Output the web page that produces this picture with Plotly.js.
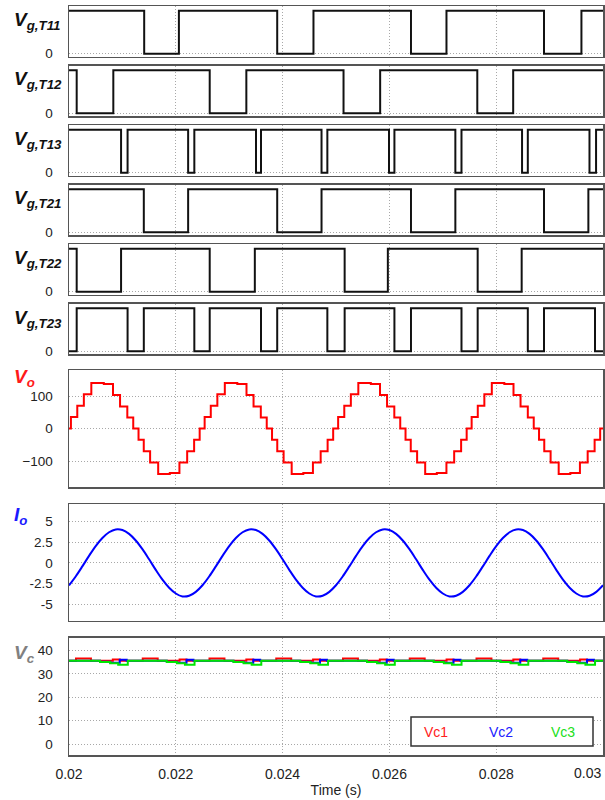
<!DOCTYPE html>
<html><head><meta charset="utf-8">
<script src="https://cdn.plot.ly/plotly-3.0.1.min.js"></script>
<style>html,body{margin:0;padding:0;background:#fff;}</style>
</head><body><div id="chart" style="width:605px;height:800px;"></div>
<script>
// ---- gate signals (switching instants, level after each instant) ----
const tT11 = [0.02, 0.021408, 0.022058, 0.023899, 0.024578, 0.026404, 0.027069, 0.028895, 0.029596, 0.03];
const gT11 = [1, 0, 1, 0, 1, 0, 1, 0, 1, 1];
const tT12 = [0.02, 0.020144, 0.020830, 0.022635, 0.023321, 0.025141, 0.025827, 0.027646, 0.028318, 0.03];
const gT12 = [1, 0, 1, 0, 1, 0, 1, 0, 1, 1];
const tT13 = [0.02, 0.020975, 0.021097, 0.022231, 0.022347, 0.023502, 0.023596, 0.024729, 0.024838, 0.025993, 0.026094, 0.027235, 0.027350, 0.028484, 0.028592, 0.029747, 0.029870, 0.03];
const gT13 = [1, 0, 1, 0, 1, 0, 1, 0, 1, 0, 1, 0, 1, 0, 1, 0, 1, 1];
const tT21 = [0.02, 0.021401, 0.022231, 0.023899, 0.024729, 0.026404, 0.027235, 0.028895, 0.029726, 0.03];
const gT21 = [1, 0, 1, 0, 1, 0, 1, 0, 1, 1];
const tT22 = [0.02, 0.020144, 0.020975, 0.022635, 0.023480, 0.025162, 0.025971, 0.027653, 0.028477, 0.03];
const gT22 = [1, 0, 1, 0, 1, 0, 1, 0, 1, 1];
const tT23 = [0.02, 0.020144, 0.021097, 0.021401, 0.022347, 0.022635, 0.023596, 0.023899, 0.024838, 0.025162, 0.026094, 0.026404, 0.027350, 0.027653, 0.028592, 0.028895, 0.029850, 0.03];
const gT23 = [0, 1, 0, 1, 0, 1, 0, 1, 0, 1, 0, 1, 0, 1, 0, 1, 0, 0];

// ---- output voltage Vo (staircase) ----
const tVo = [0.02, 0.020036, 0.020155, 0.020278, 0.020418, 0.020652, 0.020824, 0.020956, 0.021092, 0.021203, 0.021302, 0.021400, 0.021519, 0.021670, 0.021888, 0.022068, 0.022213, 0.022343, 0.022447,
  0.022540, 0.022655, 0.022778, 0.022918, 0.023152, 0.023324, 0.023456, 0.023592, 0.023703, 0.023802, 0.023900, 0.024019, 0.024170, 0.024388, 0.024568, 0.024713, 0.024843, 0.024947,
  0.025040, 0.025155, 0.025278, 0.025418, 0.025652, 0.025824, 0.025956, 0.026092, 0.026203, 0.026302, 0.026400, 0.026519, 0.026670, 0.026888, 0.027068, 0.027213, 0.027343, 0.027447,
  0.027540, 0.027655, 0.027778, 0.027918, 0.028152, 0.028324, 0.028456, 0.028592, 0.028703, 0.028802, 0.028900, 0.029019, 0.029170, 0.029388, 0.029568, 0.029713, 0.029843, 0.029947, 0.03];
const vVo = [0, 35, 70, 105, 140, 137, 103, 68, 34, 0, -35, -70, -105, -140, -137, -105, -70, -35, 0,
  35, 70, 105, 140, 137, 103, 68, 34, 0, -35, -70, -105, -140, -137, -105, -70, -35, 0,
  35, 70, 105, 140, 137, 103, 68, 34, 0, -35, -70, -105, -140, -137, -105, -70, -35, 0,
  35, 70, 105, 140, 137, 103, 68, 34, 0, -35, -70, -105, -140, -137, -105, -70, -35, 0, 0];

// ---- output current Io ----
const tIo = [0.02, 0.020125, 0.02025, 0.020375, 0.0205, 0.020625, 0.02075, 0.020875, 0.021, 0.021125, 0.02125, 0.021375, 0.0215, 0.021625, 0.02175, 0.021875, 0.022, 0.022125, 0.02225, 0.022375,
  0.0225, 0.022625, 0.02275, 0.022875, 0.023, 0.023125, 0.02325, 0.023375, 0.0235, 0.023625, 0.02375, 0.023875, 0.024, 0.024125, 0.02425, 0.024375, 0.0245, 0.024625, 0.02475, 0.024875,
  0.025, 0.025125, 0.02525, 0.025375, 0.0255, 0.025625, 0.02575, 0.025875, 0.026, 0.026125, 0.02625, 0.026375, 0.0265, 0.026625, 0.02675, 0.026875, 0.027, 0.027125, 0.02725, 0.027375,
  0.0275, 0.027625, 0.02775, 0.027875, 0.028, 0.028125, 0.02825, 0.028375, 0.0285, 0.028625, 0.02875, 0.028875, 0.029, 0.029125, 0.02925, 0.029375, 0.0295, 0.029625, 0.02975, 0.029875, 0.03];
const vIo = [-2.75, -1.66, -0.43, 0.85, 2.04, 3.02, 3.72, 4.06, 3.99, 3.52, 2.72, 1.66, 0.43, -0.85, -2.04, -3.02, -3.72, -4.08, -4.00, -3.52,
  -2.72, -1.66, -0.43, 0.85, 2.04, 3.02, 3.72, 4.06, 3.99, 3.52, 2.72, 1.66, 0.43, -0.85, -2.04, -3.02, -3.72, -4.08, -4.00, -3.52,
  -2.72, -1.66, -0.43, 0.85, 2.04, 3.02, 3.72, 4.06, 3.99, 3.52, 2.72, 1.66, 0.43, -0.85, -2.04, -3.02, -3.72, -4.08, -4.00, -3.52,
  -2.72, -1.66, -0.43, 0.85, 2.04, 3.02, 3.72, 4.06, 3.99, 3.52, 2.72, 1.66, 0.43, -0.85, -2.04, -3.02, -3.72, -4.08, -4.00, -3.52, -2.72];

// ---- capacitor voltages ----
const tVc1 = [0.02, 0.020131, 0.020411, 0.020821, 0.020951, 0.021381, 0.021661, 0.022071, 0.022201, 0.022631, 0.022911, 0.023321, 0.023451,
  0.023881, 0.024161, 0.024571, 0.024701, 0.025131, 0.025411, 0.025821, 0.025951, 0.026381, 0.026661, 0.027071, 0.027201,
  0.027631, 0.027911, 0.028321, 0.028451, 0.028881, 0.029161, 0.029571, 0.029701, 0.03];
const vVc1 = [35.6, 36.6, 35.6, 36.2, 35.6, 36.6, 35.6, 36.2, 35.6, 36.6, 35.6, 36.2, 35.6,
  36.6, 35.6, 36.2, 35.6, 36.6, 35.6, 36.2, 35.6, 36.6, 35.6, 36.2, 35.6,
  36.6, 35.6, 36.2, 35.6, 36.6, 35.6, 36.2, 35.6, 35.6];
const tVc2 = [0.02, 0.020581, 0.020771, 0.020951, 0.021081, 0.021831, 0.022021, 0.022201, 0.022331, 0.023081, 0.023271, 0.023451, 0.023581,
  0.024331, 0.024521, 0.024701, 0.024831, 0.025581, 0.025771, 0.025951, 0.026081, 0.026831, 0.027021, 0.027201, 0.027331,
  0.028081, 0.028271, 0.028451, 0.028581, 0.029331, 0.029521, 0.029701, 0.029831, 0.03];
const vVc2 = [35.6, 35.2, 34.8, 36.1, 35.6, 35.2, 34.8, 36.1, 35.6, 35.2, 34.8, 36.1, 35.6,
  35.2, 34.8, 36.1, 35.6, 35.2, 34.8, 36.1, 35.6, 35.2, 34.8, 36.1, 35.6,
  35.2, 34.8, 36.1, 35.6, 35.2, 34.8, 36.1, 35.6, 35.6];
const tVc3 = [0.02, 0.020581, 0.020771, 0.020921, 0.021101, 0.021831, 0.022021, 0.022171, 0.022351, 0.023081, 0.023271, 0.023421, 0.023601,
  0.024331, 0.024521, 0.024671, 0.024851, 0.025581, 0.025771, 0.025921, 0.026101, 0.026831, 0.027021, 0.027171, 0.027351,
  0.028081, 0.028271, 0.028421, 0.028601, 0.029331, 0.029521, 0.029671, 0.029851, 0.03];
const vVc3 = [35.6, 35.1, 34.6, 33.9, 35.6, 35.1, 34.6, 33.9, 35.6, 35.1, 34.6, 33.9, 35.6,
  35.1, 34.6, 33.9, 35.6, 35.1, 34.6, 33.9, 35.6, 35.1, 34.6, 33.9, 35.6,
  35.1, 34.6, 33.9, 35.6, 35.1, 34.6, 33.9, 35.6, 35.6];

// ---- ticks / labels ----
const xTickVals = [0.02, 0.022, 0.024, 0.026, 0.028];
const xTickText = ['0.02', '0.022', '0.024', '0.026', '0.028'];
const xLastTick = 0.03;
const xLastLabel = '0.03';
const voTicks = [-100, 0, 100];
const ioTicks = [-5, -2.5, 0, 2.5, 5];
const ioTickText = ['-5', '-2.5', '0', '2.5', '5'];
const vcTicks = [0, 10, 20, 30, 40];
const gateNames = ['T11', 'T12', 'T13', 'T21', 'T22', 'T23'];
const legendNames = ['Vc1', 'Vc2', 'Vc3'];

const FONT = 'Liberation Sans, Arial, Helvetica, sans-serif';
const gateT = [tT11, tT12, tT13, tT21, tT22, tT23];
const gateV = [gT11, gT12, gT13, gT21, gT22, gT23];

const data = [];
gateT.forEach((t, i) => {
  data.push({x: t, y: gateV[i], xaxis: 'x' + (i === 0 ? '' : i + 1), yaxis: 'y' + (i === 0 ? '' : i + 1),
    type: 'scatter', mode: 'lines', line: {shape: 'hv', color: '#111', width: 2}, hoverinfo: 'skip'});
});
data.push({x: tVo, y: vVo, xaxis: 'x7', yaxis: 'y7', type: 'scatter', mode: 'lines', line: {shape: 'hv', color: '#ff0000', width: 2}});
data.push({x: tIo, y: vIo, xaxis: 'x8', yaxis: 'y8', type: 'scatter', mode: 'lines', line: {shape: 'spline', smoothing: 1, color: '#0000ff', width: 2}});
data.push({x: tVc1, y: vVc1, xaxis: 'x9', yaxis: 'y9', type: 'scatter', mode: 'lines', name: legendNames[0], line: {shape: 'hv', color: '#ff0000', width: 2}});
data.push({x: tVc2, y: vVc2, xaxis: 'x9', yaxis: 'y9', type: 'scatter', mode: 'lines', name: legendNames[1], line: {shape: 'hv', color: '#0000ff', width: 2}});
data.push({x: tVc3, y: vVc3, xaxis: 'x9', yaxis: 'y9', type: 'scatter', mode: 'lines', name: legendNames[2], line: {shape: 'hv', color: '#00e600', width: 2}});

// plot area spans px 6..755 vertically
const H = 749, BOT = 755;
const dom = (top, bottom) => [(BOT - bottom) / H, (BOT - top) / H];
const panels = [
  [6, 56.5], [65.5, 116], [125, 175.5], [184.5, 235], [244, 294.5], [303.5, 354],
  [370, 487], [504, 620.5], [637.5, 755]
];

const layout = {
  width: 605, height: 800,
  margin: {l: 69, r: 2, t: 6, b: 45},
  paper_bgcolor: '#fff', plot_bgcolor: '#fff',
  showlegend: false,
  font: {family: FONT, color: '#222', size: 13},
  annotations: [], shapes: []
};

const GRID = {showgrid: true, gridcolor: '#a8a8a8', griddash: '1px,2px', gridwidth: 1};
for (let i = 1; i <= 9; i++) {
  const xs = i === 1 ? '' : String(i);
  const xa = Object.assign({
    domain: [0, 1], anchor: 'y' + xs, range: [0.02, 0.03],
    tickmode: 'array', tickvals: xTickVals, ticktext: xTickText,
    showticklabels: i === 9, ticks: 'outside', ticklen: 6, tickcolor: 'rgba(0,0,0,0)',
    tickfont: {family: FONT, size: 14, color: '#222'},
    showline: true, mirror: true, linecolor: '#555', linewidth: 1.5, zeroline: false
  }, GRID);
  if (i > 1) xa.matches = 'x';
  if (i === 9) xa.title = {text: 'Time (s)', font: {family: FONT, size: 14, color: '#222'}, standoff: 4};
  layout['xaxis' + xs] = xa;
  const ya = Object.assign({
    domain: dom(panels[i - 1][0], panels[i - 1][1]), anchor: 'x' + xs,
    ticks: 'outside', ticklen: 12, tickcolor: 'rgba(0,0,0,0)',
    tickfont: {family: FONT, size: 13.5, color: '#222'},
    showline: true, mirror: true, linecolor: '#555', linewidth: 1.5, zeroline: false
  }, GRID);
  if (i <= 6) { ya.range = [-0.065, 1.11]; ya.tickmode = 'array'; ya.tickvals = [0]; ya.ticktext = ['0']; }
  if (i === 7) { ya.range = [-180, 180]; ya.tickmode = 'array'; ya.tickvals = voTicks; }
  if (i === 8) { ya.range = [-7.0, 7.15]; ya.tickmode = 'array'; ya.tickvals = ioTicks; ya.ticktext = ioTickText; }
  if (i === 9) { ya.range = [-4.7, 45.6]; ya.tickmode = 'array'; ya.tickvals = vcTicks; }
  layout['yaxis' + xs] = ya;
}

// panel labels
const labX = (12 - 69) / 534;
const lab = (text, color, yax, shift) => ({
  text: text, xref: 'paper', x: labX, xanchor: 'left',
  yref: yax + ' domain', y: 1, yanchor: 'top', yshift: shift,
  showarrow: false, font: {family: FONT, size: 19, color: color}
});
gateNames.forEach((n, i) => {
  layout.annotations.push(lab('<b><i>V<sub>g,' + n + '</sub></i></b>', '#111', 'y' + (i === 0 ? '' : i + 1), -1));
});
layout.annotations.push(lab('<b><i>V<sub>o</sub></i></b>', '#ff1a1a', 'y7', 6));
layout.annotations.push(lab('<b><i>I<sub>o</sub></i></b>', '#1a1aff', 'y8', 2));
layout.annotations.push(lab('<b><i>V<sub>c</sub></i></b>', '#808080', 'y9', -2));

// last x tick label, right-aligned at the plot edge
layout.annotations.push({text: xLastLabel, xref: 'x9', x: xLastTick, xanchor: 'right', yref: 'paper', y: 0, yanchor: 'top', yshift: -8,
  showarrow: false, font: {family: FONT, size: 14, color: '#222'}});

// legend box with coloured names
layout.shapes.push({type: 'rect', xref: 'paper', yref: 'paper', x0: (411 - 69) / 534, x1: (593 - 69) / 534,
  y0: (BOT - 746) / H, y1: (BOT - 717) / H, line: {color: '#333', width: 1.5}, fillcolor: '#fff', layer: 'above'});
const legColors = ['#ff2020', '#2020ff', '#20e020'];
const legX = [436, 501, 563];
legendNames.forEach((n, i) => {
  layout.annotations.push({text: n, xref: 'paper', x: (legX[i] - 69) / 534, xanchor: 'center', yref: 'paper', y: (BOT - 731.5) / H, yanchor: 'middle',
    showarrow: false, font: {family: FONT, size: 14, color: legColors[i]}});
});

Plotly.newPlot('chart', data, layout, {displayModeBar: false, staticPlot: true});
</script>
</body></html>
